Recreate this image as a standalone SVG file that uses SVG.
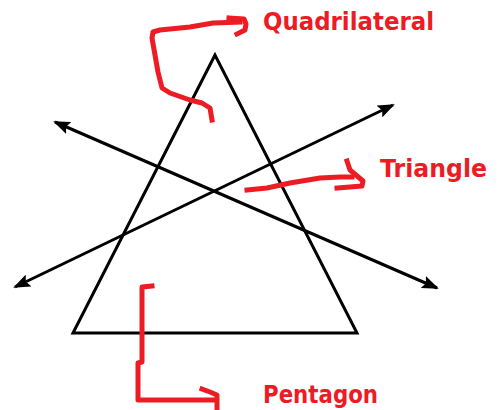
<svg xmlns="http://www.w3.org/2000/svg" width="499" height="410" viewBox="0 0 499 410">
<style>
.blk{fill:none;stroke:#000;stroke-width:3;stroke-linejoin:miter}
.red{fill:none;stroke:#ed1c24;stroke-width:5;stroke-linecap:square;stroke-linejoin:round}
.lbl{font-family:"DejaVu Sans","Liberation Sans",sans-serif;font-weight:bold;font-size:25px;fill:#ed1c24}
</style>
<defs>
<marker id="ah" markerUnits="userSpaceOnUse" markerWidth="17" markerHeight="13" refX="15" refY="6.5" orient="auto-start-reverse" viewBox="0 0 17 13">
<path d="M0,0 L17,6.5 L0,13 L3,6.5 Z" fill="#000"/>
</marker>
</defs>
<rect width="499" height="410" fill="#fff"/>
<g id="triangle">
<polygon class="blk" points="215,55 73,333 357,333"/>
</g>
<g id="connectors">
<line class="blk" x1="55" y1="122" x2="437" y2="288" marker-start="url(#ah)" marker-end="url(#ah)"/>
<line class="blk" x1="15" y1="287" x2="393" y2="105" marker-start="url(#ah)" marker-end="url(#ah)"/>
<path class="red" d="M212,120 L210,108 L202,103 L190,100 L170,93 L162,88 L158,72 L155,55 L152,38 L153,32 L160,30 L190,27 L213,23 L240,22"/>
<path class="red" d="M229,18 L244,19 L246,24 L245,30 L237,34"/>
<path class="red" d="M247,190 L267,188 L290,183 L320,178 L340,177 L352,177"/>
<path class="red" d="M347,161 L350,170 L363,181 L362,186 L337,188"/>
<path class="red" d="M152,286 L142,287 L142,362 L138,363 L138,400 L213,400"/>
<path class="red" d="M202,389 L210,392 L217,395 L217,410"/>
</g>
<g id="quadrilateral">
<text class="lbl" x="263" y="30" textLength="171" lengthAdjust="spacingAndGlyphs">Quadrilateral</text>
</g>
<g id="triangle-label">
<text class="lbl" x="380" y="177" textLength="107" lengthAdjust="spacingAndGlyphs">Triangle</text>
</g>
<g id="pentagon">
<text class="lbl" x="263" y="403" textLength="115" lengthAdjust="spacingAndGlyphs">Pentagon</text>
</g>
</svg>
